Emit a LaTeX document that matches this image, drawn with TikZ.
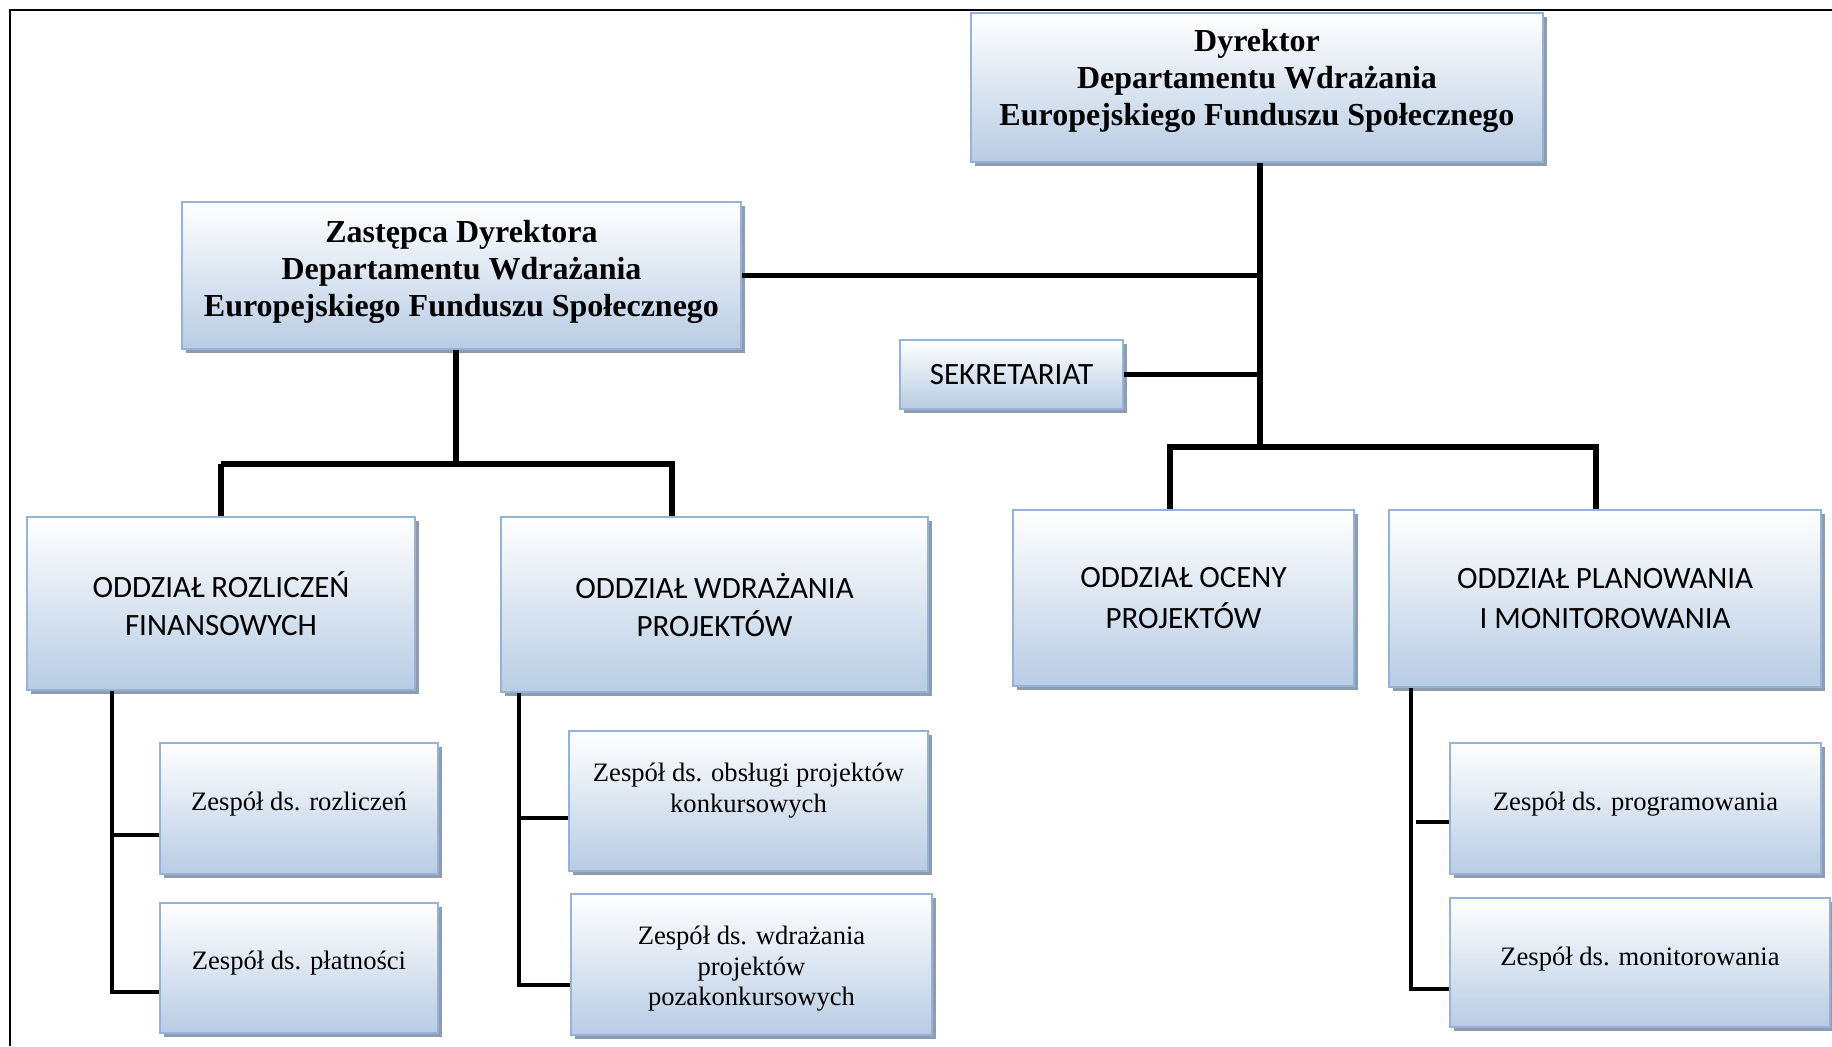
\documentclass[tikz,border=0pt]{standalone}
\usepackage{fontspec}
\setmainfont{Liberation Serif}
\newfontfamily\calibri{Carlito}
\usetikzlibrary{shadows}
\definecolor{boxline}{RGB}{149,179,215}
\definecolor{boxfill}{RGB}{184,204,228}
\definecolor{boxshade}{RGB}{143,156,176}
\newcommand{\txtup}[1]{\rule[-#1]{0pt}{0pt}}
\newcommand{\txtdown}[1]{\rule{0pt}{#1}}

\begin{document}
\begin{tikzpicture}[x=0.5pt,y=0.5pt,yscale=-1,xscale=1,
    unit/.style={draw=boxline,line width=1pt,top color=white,bottom color=boxfill,
      drop shadow={shadow xshift=2pt,shadow yshift=-2pt,fill=boxshade,opacity=1},
      anchor=north west,inner sep=0pt,align=center},
    head/.style={unit,font=\bfseries\fontsize{16}{18.5}\selectfont},
    branch/.style={unit,font=\calibri\fontsize{15.5}{19}\selectfont},
    team/.style={unit,font=\fontsize{13.3}{15.3}\selectfont},
    link/.style={line width=2.6pt},
    sublink/.style={line width=1.8pt}]
        \useasboundingbox (0,0) rectangle (1832,1046);
        %Frame
        \draw [line width=1pt] (10,1046) -- (10,10) -- (1832,10) ;

        % Directors
        \node [head,minimum width=286pt,minimum height=74.5pt] (dyr) at (970,12) {Dyrektor\\Departamentu Wdrażania\\Europejskiego Funduszu Społecznego\txtup{10pt}};
        \node [head,minimum width=279.5pt,minimum height=73.5pt] (zast) at (181,201) {Zastępca Dyrektora\\Departamentu Wdrażania\\Europejskiego Funduszu Społecznego\txtup{7pt}};
        \node [branch,minimum width=111.5pt,minimum height=34.5pt] (sekr) at (899,339) {SEKRETARIAT};

        % Departments
        \node [branch,minimum width=194pt,minimum height=86.5pt] (rozl) at (26,516) {ODDZIAŁ ROZLICZEŃ\\FINANSOWYCH};
        \node [branch,minimum width=213.5pt,minimum height=87.5pt] (wdr) at (500,516) {ODDZIAŁ WDRAŻANIA\\PROJEKTÓW};
        \node [branch,minimum width=170.5pt,minimum height=88pt] (ocen) at (1012,509) {ODDZIAŁ OCENY\\[1.5pt]PROJEKTÓW};
        \node [branch,minimum width=216pt,minimum height=88.5pt] (plan) at (1388,509) {ODDZIAŁ PLANOWANIA\\[1pt]I MONITOROWANIA};

        % Teams
        \node [team,minimum width=139pt,minimum height=65.5pt] (zr) at (159,742) {Zespół ds. rozliczeń\txtup{7.5pt}};
        \node [team,minimum width=139pt,minimum height=65pt] (zp) at (159,902) {Zespół ds. płatności\txtup{7.5pt}};
        \node [team,minimum width=179.5pt,minimum height=70pt] (zo) at (568,730) {Zespół ds. obsługi projektów\\konkursowych\txtup{13.4pt}};
        \node [team,minimum width=180.5pt,minimum height=70.5pt] (zw) at (570,893) {\txtdown{13.7pt}Zespół ds. wdrażania\\projektów\\pozakonkursowych};
        \node [team,minimum width=185.5pt,minimum height=65.5pt] (zpr) at (1449,742) {Zespół ds. programowania\txtup{7.5pt}};
        \node [team,minimum width=190pt,minimum height=64.5pt] (zm) at (1449,897) {Zespół ds. monitorowania\txtup{6.4pt}};

        %Straight Lines
        \coordinate (rbus) at (1260,447);
        \coordinate (lbus) at (456,464);
        \draw [link] (dyr.south -| rbus) -- (rbus) ;
        \draw [link] (zast.east) -- (zast.east -| rbus) ;
        \draw [link] (sekr.east) -- (sekr.east -| rbus) ;
        \draw [link] (1170,0 |- ocen.north) -- (1170,0 |- rbus) -- (1596,0 |- rbus) -- (1596,0 |- plan.north) ;
        \draw [link] (zast.south -| lbus) -- (lbus) ;
        \draw [link] (rozl.north |- lbus) -- (rozl.north) ;
        \draw [link] (672,0 |- wdr.north) -- (672,0 |- lbus) -- (rozl.north |- lbus) ;

        %Sub Lines
        \draw [sublink] (112,0 |- rozl.south) |- (zp.west |- 0,992) ;
        \draw [sublink] (zr.west |- 0,835) -- ++(-45,0) ;
        \draw [sublink] (519,0 |- wdr.south) |- (zw.west |- 0,985) ;
        \draw [sublink] (zo.west |- 0,818) -- ++(-49,0) ;
        \draw [sublink] (1411,0 |- plan.south) |- (zm.west |- 0,989) ;
        \draw [sublink] (zpr.west |- 0,822) -- ++(-33,0) ;
\end{tikzpicture}
\end{document}
